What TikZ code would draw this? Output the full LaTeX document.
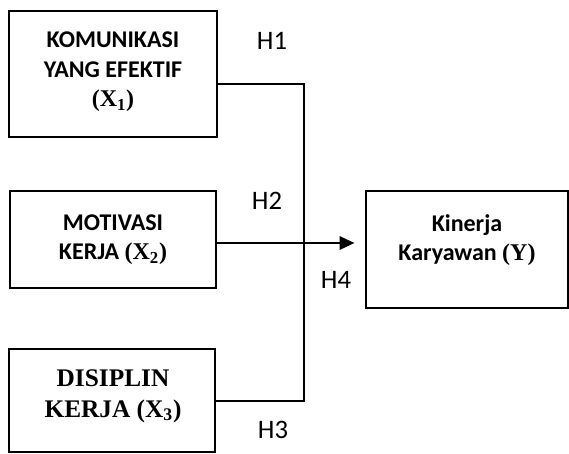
\documentclass[tikz,border=0pt]{standalone}
\usepackage{fontspec}
\setmainfont{Carlito}
\newfontfamily\tim{Liberation Serif}
\usetikzlibrary{arrows.meta}
\tikzset{
  boxstyle/.style={draw, line width=1.4pt, inner sep=0pt},
  txt/.style={align=center, font=\fontsize{18}{22}\selectfont\bfseries},
  hlab/.style={font=\fontsize{20}{24}\selectfont},
  conn/.style={line width=1.4pt},
}
\begin{document}
\begin{tikzpicture}[x=0.75pt,y=-0.75pt]
\useasboundingbox (0,0) rectangle (569,454);
% boxes
\node[boxstyle, minimum width=208*0.75pt, minimum height=126*0.75pt] (b1) at (113,74) {};
\node[boxstyle, minimum width=206*0.75pt, minimum height=97*0.75pt] (b2) at (113,239.5) {};
\node[boxstyle, minimum width=206*0.75pt, minimum height=103*0.75pt] (b3) at (112,400.5) {};
\node[boxstyle, minimum width=202*0.75pt, minimum height=117*0.75pt] (y) at (467,249.5) {};
% texts
\node[txt] (t1) at (113,72) {KOMUNIKASI\\YANG EFEKTIF\\{\tim (X\textsubscript{1})}};
\node[txt] (t2) at (113,240) {MOTIVASI\\KERJA {\tim (X\textsubscript{2})}};
\node[txt, font=\fontsize{19}{23}\tim\bfseries] (t3) at (113,396) {DISIPLIN\\KERJA (X\textsubscript{3})};
\node[txt] (ty) at (467,240) {Kinerja\\Karyawan {\tim (Y)}};
% labels
\node[hlab] (h1) at (272,41) {H1};
\node[hlab] (h2) at (267,201) {H2};
\node[hlab] (h4) at (336,280) {H4};
\node[hlab] (h3) at (273,430) {H3};
% connectors
\coordinate (j1) at (304,84);
\coordinate (j3) at (304,401);
\coordinate (ay) at (0,243);
\draw[conn] (b1.east |- j1) -- (j1) -- (j3) -- (b3.east |- j3);
\draw[conn, -{Triangle[length=11pt,width=10pt]}, shorten >=8pt] (b2.east |- ay) -- (y.west |- ay);
\end{tikzpicture}
\end{document}
